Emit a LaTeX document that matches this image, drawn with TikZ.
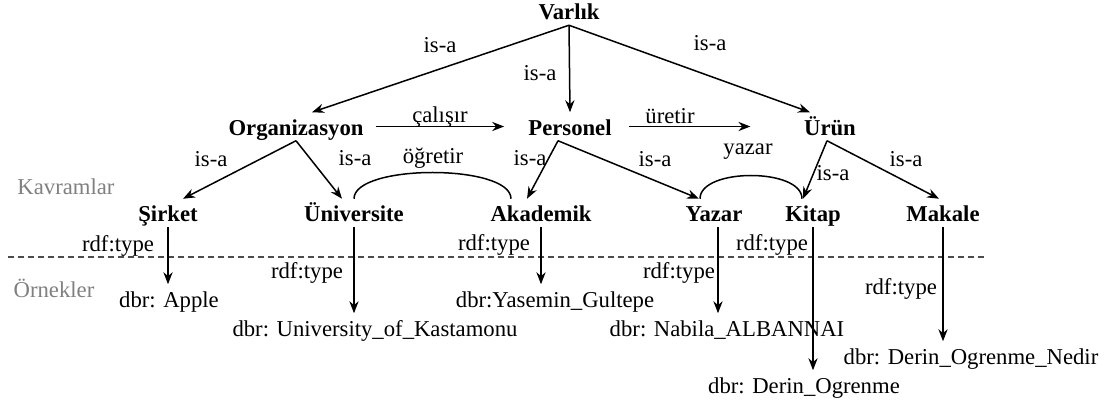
\documentclass[tikz,border=0pt]{standalone}
\usepackage{fontspec}
\setmainfont{Liberation Serif}
\newcommand{\dsz}{\fontsize{11.35}{13.6}\selectfont}
\usetikzlibrary{arrows.meta}
\tikzset{
  concept/.style={font=\dsz\bfseries, text height=10.25pt, text depth=1.25pt, inner xsep=3pt, inner ysep=1pt},
  instance/.style={font=\dsz, text height=10.25pt, text depth=1.25pt, inner xsep=3pt, inner ysep=1pt},
  rel/.style={font=\dsz, inner sep=1pt},
  side/.style={font=\dsz, text=black!50},
}

\begin{document}
\begin{tikzpicture}[x=0.5pt, y=-0.5pt, line width=0.75pt, >={Stealth[length=6pt,width=4.6pt]}]
    \useasboundingbox (0,0) rectangle (1117,405);
    % concepts
    \node[concept] (varlik) at (569,11) {Varlık};
    \node[concept] (org) at (296,126.5) {Organizasyon};
    \node[concept] (pers) at (570,126.5) {Personel};
    \node[concept] (urun) at (830,126.5) {Ürün};
    \node[concept] (sirket) at (168,213) {Şirket};
    \node[concept] (univ) at (354,213) {Üniversite};
    \node[concept] (akad) at (541,213) {Akademik};
    \node[concept] (yazar) at (714,213) {Yazar};
    \node[concept] (kitap) at (813,213) {Kitap};
    \node[concept] (makale) at (943,213) {Makale};
    % instances
    \node[instance] (apple) at (169,298.5) {dbr: Apple};
    \node[instance] (kast) at (375,327.5) {dbr: University\_of\_Kastamonu};
    \node[instance] (yasemin) at (555,298.5) {dbr:Yasemin\_Gultepe};
    \node[instance] (nabila) at (727,327.5) {dbr: Nabila\_ALBANNAI};
    \node[instance] (derin) at (804,384.5) {dbr: Derin\_Ogrenme};
    \node[instance] (nedir) at (971,355.5) {dbr: Derin\_Ogrenme\_Nedir};
    \node[side] (kavram) at (66,187) {Kavramlar};
    \node[side] (ornek) at (54,288) {Örnekler};
    \draw[dashed, dash pattern=on 3pt off 2pt, black!70, line width=0.6pt] (8,257) -- (985,257);
    % is-a
    \draw[->] (varlik.south) -- ([xshift=8pt]org.north);
    \draw[->] (varlik.south) -- (pers.north);
    \draw[->] (varlik.south) -- ([xshift=-10pt]urun.north);
    \draw[->] (org.south) -- ([xshift=7.5pt]sirket.north);
    \draw[->] (org.south) -- ([xshift=-6pt]univ.north);
    \draw[->] ([xshift=-6pt]pers.south) -- ([xshift=-7pt]akad.north);
    \draw[->] ([xshift=-6pt]pers.south) -- ([xshift=-7.5pt]yazar.north);
    \draw[->] ([xshift=-1.5pt]urun.south) -- ([xshift=-5pt]kitap.north);
    \draw[->] ([xshift=-1.5pt]urun.south) -- ([xshift=-2pt]makale.north);
    \node[rel] (isa1) at (440,45) {is-a};
    \node[rel] (isa2) at (540,73) {is-a};
    \node[rel] (isa3) at (710,43) {is-a};
    \node[rel] (isa4) at (211,159) {is-a};
    \node[rel] (isa5) at (355,158) {is-a};
    \node[rel] (isa6) at (530,158) {is-a};
    \node[rel] (isa7) at (655,159) {is-a};
    \node[rel] (isa8) at (833,173) {is-a};
    \node[rel] (isa9) at (906,159) {is-a};
    % relations
    \draw[->, shorten <=2.75pt, shorten >=8.75pt] (org.east) -- (pers.west);
    \draw[->, shorten <=5.25pt, shorten >=23.5pt] (pers.east) -- (urun.west);
    \draw (univ.north) .. controls +(0,17.5pt) and +(0,17.5pt) .. ([xshift=-15pt]akad.north);
    \draw ([xshift=-7pt]yazar.north) .. controls +(0,15.5pt) and +(0,15.5pt) .. ([xshift=-5.5pt]kitap.north);
    \node[rel] (calisir) at (440,117) {çalışır};
    \node[rel] (uretir) at (670,116) {üretir};
    \node[rel] (ogretir) at (433,158) {öğretir};
    \node[rel] (yazarl) at (748,152) {yazar};
    % rdf:type
    \draw[->] (sirket.south) -- (sirket.south |- apple.north);
    \draw[->] (univ.south) -- (univ.south |- kast.north);
    \draw[->] (akad.south) -- (akad.south |- yasemin.north);
    \draw[->] ([xshift=2pt]yazar.south) -- ([xshift=2pt]yazar.south |- nabila.north);
    \draw[->] (kitap.south) -- (kitap.south |- derin.north);
    \draw[->] (makale.south) -- (makale.south |- nedir.north);
    \node[rel] (type1) at (118,246) {rdf:type};
    \node[rel] (type2) at (307,273) {rdf:type};
    \node[rel] (type3) at (494,245) {rdf:type};
    \node[rel] (type4) at (679,273) {rdf:type};
    \node[rel] (type5) at (772,245) {rdf:type};
    \node[rel] (type6) at (901,289) {rdf:type};
  \end{tikzpicture}
\end{document}
